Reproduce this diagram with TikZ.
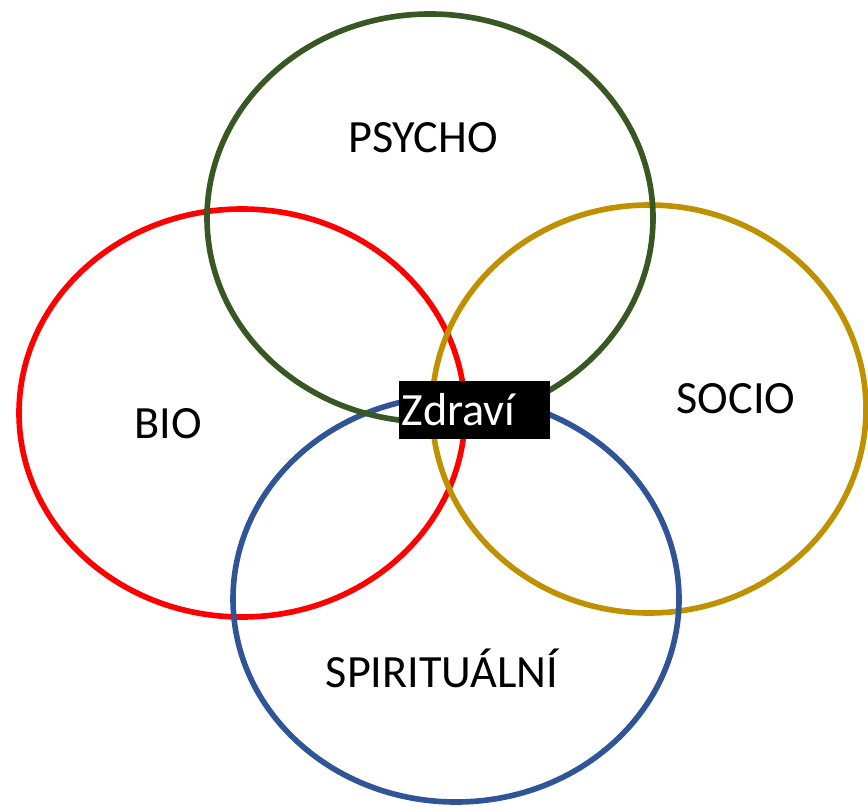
\documentclass[tikz,border=0pt]{standalone}
\usepackage{fontspec}
\setmainfont{Carlito}
\usepackage{tikz}
\definecolor{biored}{HTML}{FF0000}
\definecolor{psychogreen}{HTML}{385723}
\definecolor{sociogold}{HTML}{BF9000}
\definecolor{spiritblue}{HTML}{2F5597}
\begin{document}
\begin{tikzpicture}[x=0.02cm,y=-0.02cm,line width=3.2pt,
  label text/.style={font=\fontsize{26.3}{30}\selectfont,anchor=base,inner sep=0pt}]
\useasboundingbox (0,0) rectangle (868,807);
\draw[biored]      (242,413) ellipse [x radius=223,y radius=204];
\draw[sociogold]   (649,409) ellipse [x radius=217,y radius=204];
\draw[spiritblue]  (456,599) ellipse [x radius=223,y radius=203];
\draw[psychogreen] (430,218) ellipse [x radius=223,y radius=204];
\node[label text] (psycho) at (423,153) {PSYCHO};
\node[label text] (bio)    at (168,438) {BIO};
\node[label text] (socio)  at (736,413) {SOCIO};
\node[label text] (spirit) at (442,687) {SPIRITUÁLNÍ};
\node[font=\fontsize{26.3}{30}\selectfont,fill=black,text=white,anchor=north west,
      inner xsep=1.7pt,inner ysep=0pt,text width=82.5pt,align=left,minimum height=33pt]
      (zdravi) at (396,378) {Zdraví};
\end{tikzpicture}
\end{document}
